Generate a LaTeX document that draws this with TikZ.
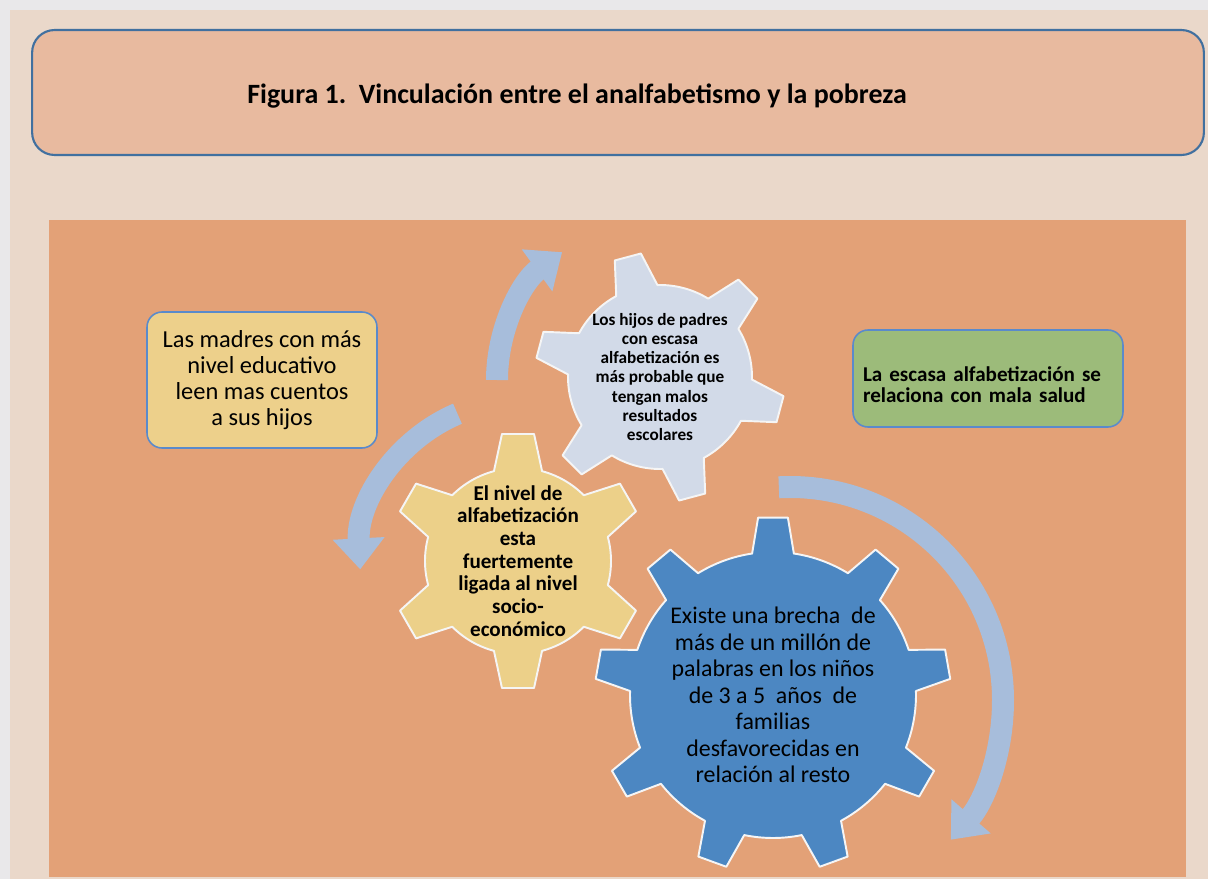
\documentclass[tikz,border=0pt]{standalone}
\usepackage{fontspec}
\setmainfont{Carlito}
\usetikzlibrary{arrows.meta}
\usetikzlibrary{positioning}

\definecolor{paper}{HTML}{E9E8EA}
\definecolor{sheet}{HTML}{EAD8CA}
\definecolor{titlefill}{HTML}{E8BA9F}
\definecolor{titleline}{HTML}{41709F}
\definecolor{panel}{HTML}{E3A177}
\definecolor{geargray}{HTML}{D2DAE8}
\definecolor{gearyellow}{HTML}{ECD089}
\definecolor{gearblue}{HTML}{4C87C2}
\definecolor{arrowblue}{HTML}{A7BDDB}
\definecolor{boxyellow}{HTML}{EDD08B}
\definecolor{boxgreen}{HTML}{9CBB7A}
\definecolor{boxline}{HTML}{5A8ACB}

\tikzset{
  gearline/.style={draw=white!92!gray, line width=1.1pt, line join=round},
  spinarrow/.style={draw=arrowblue, line width=0.44cm, -{Triangle[width=1.0cm, length=0.62cm]}},
  notebox/.style={draw=boxline, line width=0.9pt, rounded corners=0.3cm, inner sep=0pt},
  gearlabel/.style={align=center, text=black},
}

% center, teeth, tip radius, root radius, first tooth, half tip angle, half root angle, colour
\newcommand{\gearat}[8]{%
  \draw[gearline, fill=#8, shift={(#1)}] (#5-#7:#4)
    \foreach[evaluate=\i as \a using {#5+360/#2*(\i-1)}] \i in {1,...,#2} {
      -- (\a-#7:#4) -- (\a-#6:#3) -- (\a+#6:#3) -- (\a+#7:#4)
      arc[start angle=\a+#7, end angle=\a+360/#2-#7, radius=#4]
    } -- cycle;
}

\begin{document}
\begin{tikzpicture}[x=0.02cm, y=-0.02cm]
    \useasboundingbox (0,0) rectangle (1208,879);
    \fill[paper] (0,0) rectangle (1208,879);
    \fill[sheet] (10,10) rectangle (1208,879);

    % title
    \node[draw=titleline, line width=1.2pt, fill=titlefill, rounded corners=0.45cm,
      minimum width=23.44cm, minimum height=2.5cm] (titlebox) at (618,92.5) {};
    \node[anchor=base, font=\fontsize{15.9}{19}\selectfont\bfseries] (title) at (577,103)
      {Figura 1.\ \ Vinculación entre el analfabetismo y la pobreza};

    \fill[panel] (49,220) rectangle (1186,877);

    % gears
    \coordinate (gearA) at (660,377);
    \coordinate (gearB) at (518,561);
    \coordinate (gearC) at (773,695);
    \gearat{gearA}{6}{125}{92}{15}{6.2}{13.4}{geargray}
    \gearat{gearB}{6}{128}{93}{30}{7.2}{15}{gearyellow}
    \gearat{gearC}{9}{178}{143}{30}{4.8}{8.4}{gearblue}

    % turning arrows
    \draw[spinarrow] (655,380) ++(180:158) arc[start angle=180, end angle=234, radius=158];
    \draw[spinarrow] (520,561) ++(247:160) arc[start angle=247, end angle=177, radius=160];
    \draw[spinarrow] (790,700) ++(267:213) arc[start angle=267, end angle=401, radius=213];

    \node[gearlabel, font=\fontsize{9.8}{10.9}\selectfont\bfseries] (hijos) at (gearA)
      {Los hijos de padres\\con escasa\\alfabetización es\\más probable que\\tengan malos\\resultados\\escolares};
    \node[gearlabel, font=\fontsize{12}{12.9}\selectfont\bfseries] (nivel) at (gearB)
      {El nivel de\\alfabetización\\esta\\fuertemente\\ligada al nivel\\socio-\\económico};
    \node[gearlabel, font=\fontsize{13.6}{15.1}\selectfont] (brecha) at (gearC)
      {Existe una brecha~ de\\más de un millón de\\palabras en los niños\\de 3 a 5~ años~ de\\familias\\desfavorecidas en\\relación al resto};

    % side notes
    \node[notebox, fill=boxyellow, minimum width=4.6cm, minimum height=2.72cm, align=center,
      font=\fontsize{13.9}{14.9}\selectfont] (madres) at (262,380)
      {Las madres con más\\nivel educativo\\leen mas cuentos\\a sus hijos};
    \node[notebox, fill=boxgreen, minimum height=1.94cm, text width=5.0cm, inner xsep=0.2cm,
      align=left, font=\fontsize{12}{12}\selectfont\bfseries] (salud) at (988,378.5)
      {\rule{0pt}{1.3em}La escasa alfabetización se\\relaciona con mala salud};
  \end{tikzpicture}
\end{document}
